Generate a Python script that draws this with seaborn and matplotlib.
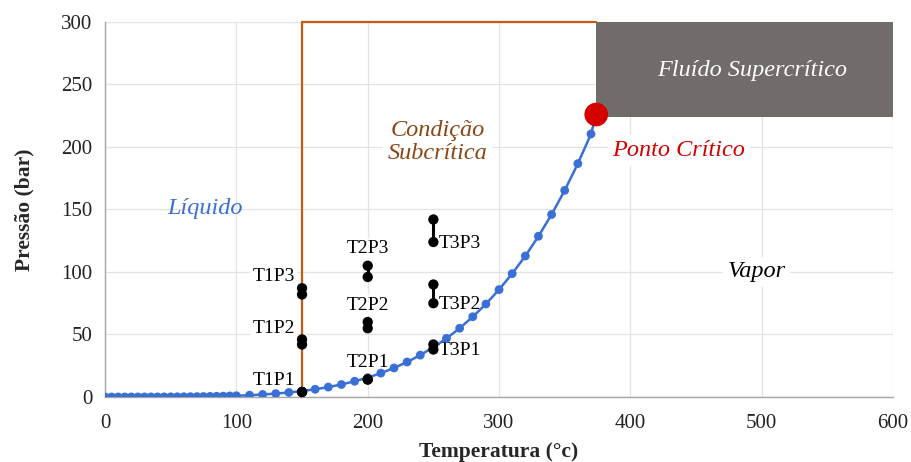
import matplotlib
matplotlib.use("Agg")
import matplotlib.pyplot as plt
import seaborn as sns
import pandas as pd
from matplotlib.patches import Rectangle

# Saturation curve of water (temperature in °C, pressure in bar)
sat_temp = [0, 5, 10, 15, 20, 25, 30, 35, 40, 45, 50, 55, 60, 65, 70, 75, 80, 85, 90, 95,
            100, 110, 120, 130, 140, 150, 160, 170, 180, 190, 200, 210, 220, 230, 240, 250,
            260, 270, 280, 290, 300, 310, 320, 330, 340, 350, 360, 370]
sat_pres = [0.006, 0.009, 0.012, 0.017, 0.023, 0.032, 0.042, 0.056, 0.074, 0.096, 0.12, 0.16,
            0.20, 0.25, 0.31, 0.39, 0.47, 0.58, 0.70, 0.85, 1.01, 1.43, 1.99, 2.70, 3.62, 4.76,
            6.18, 7.92, 10.0, 12.6, 15.5, 19.1, 23.2, 28.0, 33.5, 39.8, 46.9, 55.0, 64.2, 74.4,
            85.9, 98.7, 112.8, 128.6, 146.0, 165.3, 186.7, 210.4]

# Critical point
crit_temp = 374
crit_pres = 226

# Experimental conditions: label, temperature and the pair of pressures
exp_labels = ["T1P1", "T1P2", "T1P3", "T2P1", "T2P2", "T2P3", "T3P1", "T3P2", "T3P3"]
exp_temp = [150, 150, 150, 200, 200, 200, 250, 250, 250]
exp_p_low = [4, 42, 82, 14, 55, 96, 38, 75, 124]
exp_p_high = [4, 46, 87, 14, 60, 105, 42, 90, 142]

# Region boundaries
subcrit_temp = 150
supercrit_temp = 374
supercrit_pres = 224

x_ticks = [0, 100, 200, 300, 400, 500, 600]
y_ticks = [0, 50, 100, 150, 200, 250, 300]

sns.set_theme(style="whitegrid")
plt.rcParams["font.family"] = ["Liberation Serif", "DejaVu Serif"]

fig = plt.figure(figsize=(9.11, 4.62), dpi=100)
ax = fig.add_axes([0.1153, 0.1407, 0.8650, 0.8117])

blue = "#3a6fd6"
orange = "#c55a11"
grey = "#716b6a"

# Supercritical region
ax.add_patch(Rectangle((supercrit_temp, supercrit_pres), 600 - supercrit_temp,
                       300 - supercrit_pres, facecolor=grey, edgecolor="none", zorder=1))

# Subcritical region boundary
ax.plot([subcrit_temp, subcrit_temp, supercrit_temp], [0, 300, 300],
        color=orange, lw=1.6, zorder=3, clip_on=False)

# Saturation curve
curve = pd.DataFrame({"T": sat_temp + [crit_temp], "P": sat_pres + [crit_pres]})
sns.lineplot(data=curve, x="T", y="P", ax=ax, color=blue, lw=1.8, zorder=4)
sns.scatterplot(data=curve.iloc[:-1], x="T", y="P", ax=ax, color=blue, s=40,
                edgecolor="none", zorder=5)
sns.scatterplot(x=[crit_temp], y=[crit_pres], ax=ax, color="#d40000", s=290,
                edgecolor="none", zorder=6, clip_on=False)

# Experimental points
exp_df = pd.DataFrame({
    "label": exp_labels * 2,
    "T": exp_temp * 2,
    "P": exp_p_low + exp_p_high,
})
for t, lo, hi in zip(exp_temp, exp_p_low, exp_p_high):
    ax.plot([t, t], [lo, hi], color="black", lw=2.2, zorder=7)
sns.scatterplot(data=exp_df, x="T", y="P", ax=ax, color="black", s=55,
                edgecolor="none", zorder=8)

# Point labels sit on white boxes underneath the curve and markers
label_style = {
    "T1": ((-5, 2), "right", "bottom"),
    "T2": ((0, 6), "center", "bottom"),
    "T3": ((4, -1), "left", "center"),
}
for lab, t, lo, hi in zip(exp_labels, exp_temp, exp_p_low, exp_p_high):
    off, ha, va = label_style[lab[:2]]
    y = lo if lab.startswith("T3") else hi
    ax.annotate(lab, (t, y), xytext=off, textcoords="offset points", ha=ha, va=va,
                fontsize=14, color="black", zorder=2,
                bbox=dict(boxstyle="square,pad=0.12", fc="white", ec="none"))

# Region names
italic = dict(style="italic", fontsize=17.5, ha="center", va="center", zorder=9)
white_box = dict(boxstyle="square,pad=0.2", fc="white", ec="none")
ax.text(76, 151, "Líquido", color=blue, **italic)
ax.text(253, 204, "Condição\nSubcrítica", color="#8b4513", linespacing=1.1,
        bbox=white_box, **italic)
ax.text(437, 197, "Ponto Crítico", color="#d40000", bbox=white_box, **italic)
ax.text(496, 100, "Vapor", color="black", bbox=white_box, **italic)
ax.text(493, 261, "Fluído Supercrítico", color="white", **italic)

ax.set_xlim(0, 600)
ax.set_ylim(0, 300)
ax.set_xticks(x_ticks)
ax.set_yticks(y_ticks)
ax.tick_params(axis="both", labelsize=15, length=0, colors="#222222")
ax.tick_params(axis="x", pad=12)
ax.tick_params(axis="y", pad=9)
ax.grid(True, color="#e3e3e3", lw=0.9)
ax.set_axisbelow(True)
for side in ["top", "right"]:
    ax.spines[side].set_visible(False)
for side in ["left", "bottom"]:
    ax.spines[side].set_color("#a6a6a6")
    ax.spines[side].set_linewidth(1.0)

ax.set_xlabel("Temperatura (°c)", fontsize=15.5, fontweight="bold", labelpad=7)
ax.set_ylabel("Pressão (bar)", fontsize=15.5, fontweight="bold", labelpad=19)

fig.savefig("out.png", dpi=100)
